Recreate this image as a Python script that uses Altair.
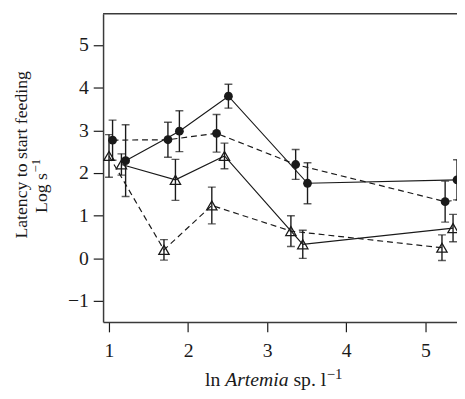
import altair as alt
import pandas as pd

# ---------------- data ----------------
# filled circles, solid line
cs_x = [1.21, 1.89, 2.51, 3.51, 5.40]
cs_y = [2.29, 2.98, 3.80, 1.76, 1.84]
cs_e = [0.84, 0.48, 0.28, 0.48, 0.47]

# filled circles, dashed line (last point lies beyond the cropped right edge)
cd_x = [1.045, 1.745, 2.36, 3.36, 5.25, 5.60]
cd_y = [2.77, 2.78, 2.93, 2.20, 1.33, 1.42]
cd_e = [0.47, 0.41, 0.44, 0.35, 0.48, 0.45]

# open triangles, solid line
ts_x = [1.157, 1.84, 2.46, 3.45, 5.35]
ts_y = [2.20, 1.84, 2.40, 0.33, 0.71]
ts_e = [0.25, 0.48, 0.30, 0.33, 0.32]

# open triangles, dashed line
td_x = [1.0, 1.695, 2.30, 3.30, 5.21]
td_y = [2.40, 0.20, 1.24, 0.64, 0.25]
td_e = [0.50, 0.24, 0.43, 0.36, 0.30]

x_ticks = [1, 2, 3, 4, 5]
y_ticks = [-1, 0, 1, 2, 3, 4, 5]

# ---------------- styling ----------------
W, H = 360, 313.5
FONT = "Liberation Serif"
FS = 18
LFS = 20
INK = "#1a1a1a"
FRAME = "#3a3a3a"

xscale = alt.Scale(domain=[0.925, 5.40], nice=False, zero=False)
yscale = alt.Scale(domain=[-1.49, 5.73], nice=False, zero=False)
xaxis = alt.Axis(values=x_ticks, format="d", grid=False, labelPadding=9, title=None)
yaxis = alt.Axis(values=y_ticks, format="d", grid=False, labelPadding=5, title=None)


def X(f="x"):
    return alt.X(f + ":Q", scale=xscale, axis=xaxis, title=None)


def Y(f="y"):
    return alt.Y(f + ":Q", scale=yscale, axis=yaxis, title=None)


def series(xs, ys, es, shape, filled, dashed, size):
    df = pd.DataFrame({"x": xs, "y": ys,
                       "lo": [a - b for a, b in zip(ys, es)],
                       "hi": [a + b for a, b in zip(ys, es)]})
    base = alt.Chart(df)
    lkw = dict(color=INK, strokeWidth=1.2, clip=True)
    if dashed:
        lkw["strokeDash"] = [6, 4]
    line = base.mark_line(**lkw).encode(x=X(), y=Y())
    bar = base.mark_rule(color=INK, strokeWidth=1.4, clip=True).encode(
        x=X(), y=Y("lo"), y2="hi:Q")
    cap_lo = base.mark_tick(orient="horizontal", color=INK, size=8, thickness=1.4,
                            clip=True).encode(x=X(), y=Y("lo"))
    cap_hi = base.mark_tick(orient="horizontal", color=INK, size=8, thickness=1.4,
                            clip=True).encode(x=X(), y=Y("hi"))
    pkw = dict(shape=shape, filled=filled, size=size, color=INK, opacity=1, clip=True)
    if not filled:
        pkw["strokeWidth"] = 1.3
    pts = base.mark_point(**pkw).encode(x=X(), y=Y())
    return [line, bar, cap_lo, cap_hi, pts]


def text(s, px, py, **kw):
    return alt.Chart(pd.DataFrame({"t": [s]})).mark_text(font=FONT, color=INK, **kw).encode(
        x=alt.value(px), y=alt.value(py), text="t:N")


top_border = alt.Chart(pd.DataFrame({"a": [0]})).mark_rule(
    color=FRAME, strokeWidth=1.5).encode(x=alt.value(0), x2=alt.value(W + 4), y=alt.value(0))

layers = []
layers += series(td_x, td_y, td_e, "triangle-up", False, True, 110)
layers += series(ts_x, ts_y, ts_e, "triangle-up", False, False, 110)
layers += series(cd_x, cd_y, cd_e, "circle", True, True, 80)
layers += series(cs_x, cs_y, cs_e, "circle", True, False, 80)
layers.append(top_border)

# x axis title: "ln Artemia sp. l^-1" (mixed styling), word by word
TF = 20
SF = 15
tb = 379
sp = 0.25 * TF
w_ln = 0.778 * TF
w_art = 3.222 * TF
w_sp = 1.139 * TF
w_l = 0.278 * TF
w_sup = 1.064 * SF
total = w_ln + sp + w_art + sp + w_sp + sp + w_l + w_sup
x0 = 173.3 - total / 2
xa = x0 + w_ln + sp
xs_ = xa + w_art + sp
xl = xs_ + w_sp + sp
xsup = xl + w_l + 0.5
layers += [
    text("ln", x0, tb, align="left", baseline="alphabetic", fontSize=TF),
    text("Artemia", xa, tb, align="left", baseline="alphabetic", fontSize=TF,
         fontStyle="italic"),
    text("sp.", xs_, tb, align="left", baseline="alphabetic", fontSize=TF),
    text("l", xl, tb, align="left", baseline="alphabetic", fontSize=TF),
    text("\u22121", xsup, tb - 8, align="left", baseline="alphabetic", fontSize=SF),
]

# y axis title (two rotated lines)
layers += [
    text("Latency to start feeding", -77.7, 143.5, align="center", baseline="alphabetic",
         fontSize=FS, angle=270),
    text("Log s", -56.7, 202.5, align="left", baseline="alphabetic", fontSize=FS, angle=270),
    text("\u22121", -63.7, 161.5, align="left", baseline="alphabetic", fontSize=13, angle=270),
]

chart = alt.layer(*layers).properties(
    width=W, height=H,
    autosize=alt.AutoSizeParams(type="none"),
    padding={"left": 96.7, "top": 2.5, "right": 0, "bottom": 80},
).configure_view(stroke=None).configure_axis(
    labelFont=FONT, labelFontSize=LFS, labelColor=INK,
    domainColor=FRAME, domainWidth=1.5,
    tickColor=INK, tickWidth=1.2, tickSize=10,
)

chart.save("out.html", embed_options={"renderer": "svg", "actions": False})
